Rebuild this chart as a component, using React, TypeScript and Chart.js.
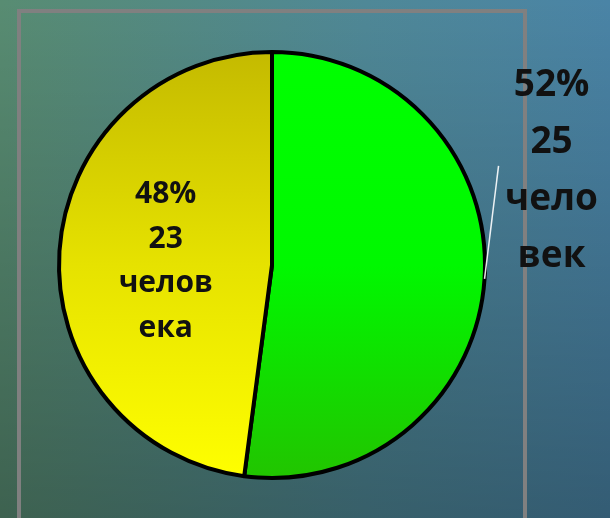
import React, { useEffect, useRef } from "react";
import { Chart, registerables } from "chart.js";

Chart.register(...registerables);

// ---- data ----
const categories = ["Группа A", "Группа B"];
const counts = [25, 23];
const labelWords = [
  ["чело", "век"],
  ["челов", "ека"],
];
const gradientTop = ["#00FF00", "#C4BA00"];
const gradientMid = ["#00F800", "#E6E200"];
const gradientBottom = ["#22C400", "#FFFF00"];

const total = counts.reduce((a, b) => a + b, 0);
const percents = counts.map((c) => Math.round((c / total) * 100));

const labelPlugin = {
  id: "sliceLabels",
  afterDatasetsDraw(chart: any) {
    const meta = chart.getDatasetMeta(0);
    const ctx = chart.ctx as CanvasRenderingContext2D;
    ctx.save();
    ctx.fillStyle = "#111111";
    ctx.textAlign = "center";
    ctx.textBaseline = "alphabetic";

    // slice 0: outside label with leader line
    const a0 = meta.data[0];
    const p0 = a0.getProps(["x", "y", "startAngle", "endAngle", "outerRadius"], true);
    const mid = (p0.startAngle + p0.endAngle) / 2;
    const ex = p0.x + Math.cos(mid) * p0.outerRadius;
    const ey = p0.y + Math.sin(mid) * p0.outerRadius;
    const lx = ex + 14;
    const ly = ey - 113;
    ctx.strokeStyle = "rgba(255,255,255,0.9)";
    ctx.lineWidth = 1.5;
    ctx.beginPath();
    ctx.moveTo(ex, ey);
    ctx.lineTo(lx, ly);
    ctx.stroke();
    const lines0 = [percents[0] + "%", String(counts[0]), ...labelWords[0]];
    ctx.font = 'bold 37px "Open Sans"';
    const tx0 = ex + 67;
    const base0 = ey - 183;
    lines0.forEach((t, i) => ctx.fillText(t, tx0, base0 + i * 57));

    // slice 1: inside label
    const a1 = meta.data[1];
    const tp = a1.tooltipPosition(true);
    const lines1 = [percents[1] + "%", String(counts[1]), ...labelWords[1]];
    ctx.font = 'bold 30px "Open Sans"';
    const base1 = tp.y - 55;
    lines1.forEach((t, i) => ctx.fillText(t, tp.x, base1 + i * 44.7));
    ctx.restore();
  },
};

export default function App() {
  const ref = useRef<HTMLCanvasElement | null>(null);
  useEffect(() => {
    if (!ref.current) return;
    const chart = new Chart(ref.current, {
      type: "pie",
      data: {
        labels: categories,
        datasets: [
          {
            data: counts,
            backgroundColor: (c: any) => {
              const ch = c.chart;
              const ca = ch.chartArea;
              const i = c.dataIndex ?? 0;
              if (!ca) return gradientTop[i];
              const g = ch.ctx.createLinearGradient(0, ca.top, 0, ca.bottom);
              g.addColorStop(0, gradientTop[i]);
              g.addColorStop(0.5, gradientMid[i]);
              g.addColorStop(1, gradientBottom[i]);
              return g;
            },
            borderColor: "#000000",
            borderWidth: 4,
          },
        ],
      },
      options: {
        animation: false,
        responsive: false,
        layout: { padding: { left: 57, right: 123, top: 50, bottom: 38 } },
        plugins: {
          legend: { display: false },
          tooltip: { enabled: false },
          title: { display: false },
        },
      },
      plugins: [labelPlugin],
    });
    return () => chart.destroy();
  }, []);

  return (
    <div
      style={{
        position: "absolute",
        left: 0,
        top: 0,
        width: 610,
        height: 518,
        overflow: "hidden",
        background:
          "linear-gradient(to bottom, rgba(0,0,0,0) 0%, rgba(0,0,0,0.3) 100%), linear-gradient(to right, #588c72 0%, #4f8897 60%, #4a84a6 100%)",
      }}
    >
      <div
        style={{
          position: "absolute",
          left: 17,
          top: 9,
          width: 502,
          height: 530,
          border: "4px solid #808080",
        }}
      />
      <canvas
        ref={ref}
        width={610}
        height={518}
        style={{ position: "absolute", left: 0, top: 0, width: 610, height: 518 }}
      />
    </div>
  );
}
